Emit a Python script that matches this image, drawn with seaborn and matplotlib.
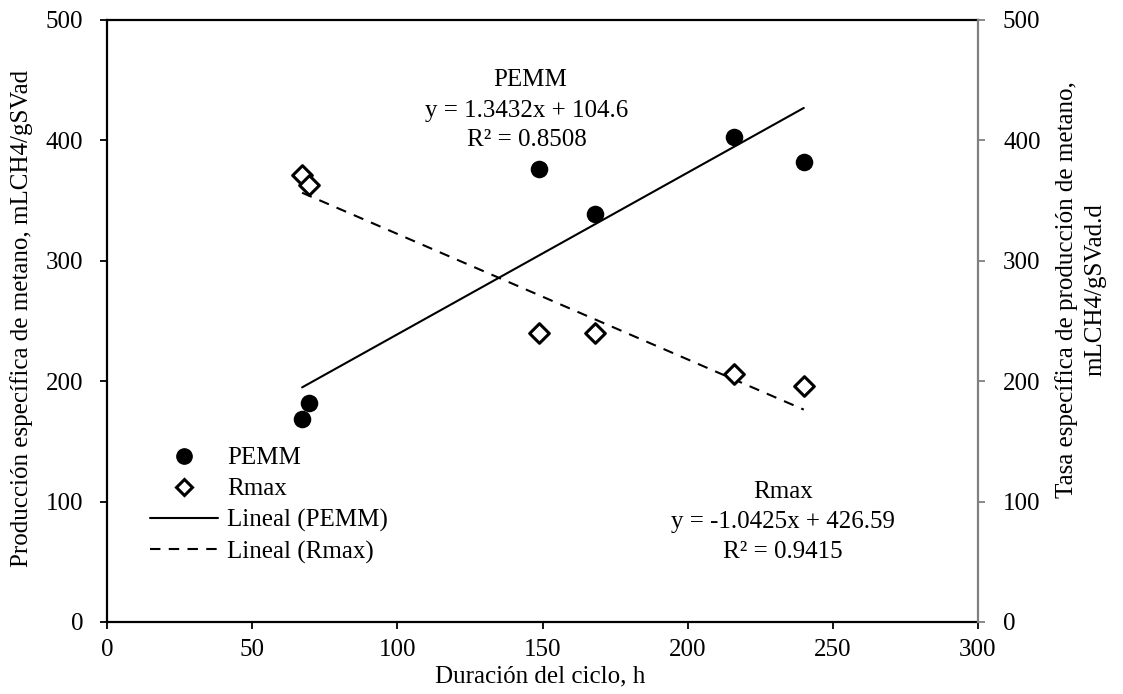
import matplotlib
matplotlib.use("Agg")
import matplotlib.pyplot as plt
import seaborn as sns
import numpy as np
import pandas as pd
from matplotlib.lines import Line2D

# Cycle duration (h) and measured responses
duracion = [67.2, 69.6, 148.8, 168.0, 216.0, 240.0]
pemm = [169.0, 182.0, 376.0, 338.6, 402.6, 382.3]
rmax = [371.3, 363.0, 240.3, 240.3, 206.0, 196.0]

# Linear trend coefficients (slope, intercept, R²)
fit_pemm = (1.3432, 104.6, 0.8508)
fit_rmax = (-1.0425, 426.59, 0.9415)

x_ticks = [0, 50, 100, 150, 200, 250, 300]
y_ticks = [0, 100, 200, 300, 400, 500]

sns.set_style("white")
plt.rcParams["font.family"] = ["Liberation Serif", "DejaVu Serif"]
plt.rcParams["text.color"] = "black"
plt.rcParams["xtick.color"] = "black"
plt.rcParams["ytick.color"] = "black"
plt.rcParams["axes.labelcolor"] = "black"
FS = 18

df = pd.DataFrame({"duracion": duracion, "PEMM": pemm, "Rmax": rmax})

fig = plt.figure(figsize=(11.23, 6.94), dpi=100)
ax = fig.add_axes([107 / 1123, 1 - 622 / 694, 871 / 1123, 602 / 694])
ax2 = ax.twinx()

# Scatter points
sns.scatterplot(data=df, x="duracion", y="PEMM", ax=ax, marker="o", s=160,
                color="black", edgecolor="black", linewidth=0, zorder=3)
sns.scatterplot(data=df, x="duracion", y="Rmax", ax=ax2, marker="D", s=100,
                facecolor="white", edgecolor="black", linewidth=2.2, zorder=3)

# Trend lines over the observed range
xr = np.array([min(duracion), max(duracion)])
trend_p = pd.DataFrame({"x": xr, "y": fit_pemm[0] * xr + fit_pemm[1]})
trend_r = pd.DataFrame({"x": xr, "y": fit_rmax[0] * xr + fit_rmax[1]})
sns.lineplot(data=trend_p, x="x", y="y", ax=ax, color="black", linewidth=1.5, zorder=2)
sns.lineplot(data=trend_r, x="x", y="y", ax=ax2, color="black", linewidth=1.5,
             linestyle=(0, (5, 4)), zorder=2)

for a in (ax, ax2):
    a.set_xlim(0, 300)
    a.set_ylim(0, 500)
    a.set_xlabel("")
    a.set_ylabel("")
    a.set_yticks(y_ticks)
ax.set_xticks(x_ticks)

ax.tick_params(axis="x", direction="out", length=5, width=1.3, pad=7,
               labelsize=FS, bottom=True, colors="black")
ax.tick_params(axis="y", direction="out", length=5, width=1.3, pad=12,
               labelsize=FS, left=True, colors="black")
ax2.tick_params(axis="y", direction="out", length=5, width=1.3, pad=13,
                labelsize=FS, right=True, color="#808080", labelcolor="black")

for name in ("left", "bottom", "top"):
    ax.spines[name].set_color("black")
    ax.spines[name].set_linewidth(1.6)
    ax.spines[name].set_visible(True)
ax.spines["right"].set_visible(False)
for name in ("left", "bottom", "top"):
    ax2.spines[name].set_visible(False)
ax2.spines["right"].set_visible(True)
ax2.spines["right"].set_color("#808080")
ax2.spines["right"].set_linewidth(1.6)

# Equation annotations
ax.text(145.7, 450, "PEMM", ha="center", va="center", fontsize=FS)
ax.text(144.7, 424.5, f"y = {fit_pemm[0]}x + {fit_pemm[1]}", ha="center", va="center", fontsize=FS)
ax.text(144.7, 400.5, f"R² = {fit_pemm[2]}", ha="center", va="center", fontsize=FS)
ax.text(232.9, 108, "Rmax", ha="center", va="center", fontsize=FS)
ax.text(232.9, 83, f"y = {fit_rmax[0]}x + {fit_rmax[1]}", ha="center", va="center", fontsize=FS)
ax.text(232.9, 58, f"R² = {fit_rmax[2]}", ha="center", va="center", fontsize=FS)

# Legend
handles = [
    Line2D([], [], marker="o", color="black", linestyle="none", markersize=11),
    Line2D([], [], marker="D", markerfacecolor="white", markeredgecolor="black",
           markeredgewidth=2.2, linestyle="none", markersize=8.5),
    Line2D([], [], color="black", linewidth=1.5),
    Line2D([], [], color="black", linewidth=1.5, linestyle=(0, (5, 4))),
]
labels = ["PEMM", "Rmax", "Lineal (PEMM)", "Lineal (Rmax)"]
leg = ax2.legend(handles, labels, loc="upper left", bbox_to_anchor=(0.049, 0.291),
                 frameon=False, fontsize=FS, handlelength=2.75, handletextpad=0.35,
                 borderpad=0, borderaxespad=0, labelspacing=0.34)

# Axis titles
fig.text(540 / 1123, 1 - 676 / 694, "Duración del ciclo, h",
         ha="center", va="center", fontsize=FS)
fig.text(22 / 1123, 1 - 318 / 694, "Producción específica de metano, mLCH4/gSVad",
         ha="center", va="center", rotation=90, fontsize=FS)
fig.text(1081 / 1123, 1 - 290 / 694,
         "Tasa específica de producción de metano,\nmLCH4/gSVad.d",
         ha="center", va="center", rotation=90, fontsize=FS,
         multialignment="center", linespacing=1.4)

fig.savefig("out.png", dpi=100, facecolor="white")
